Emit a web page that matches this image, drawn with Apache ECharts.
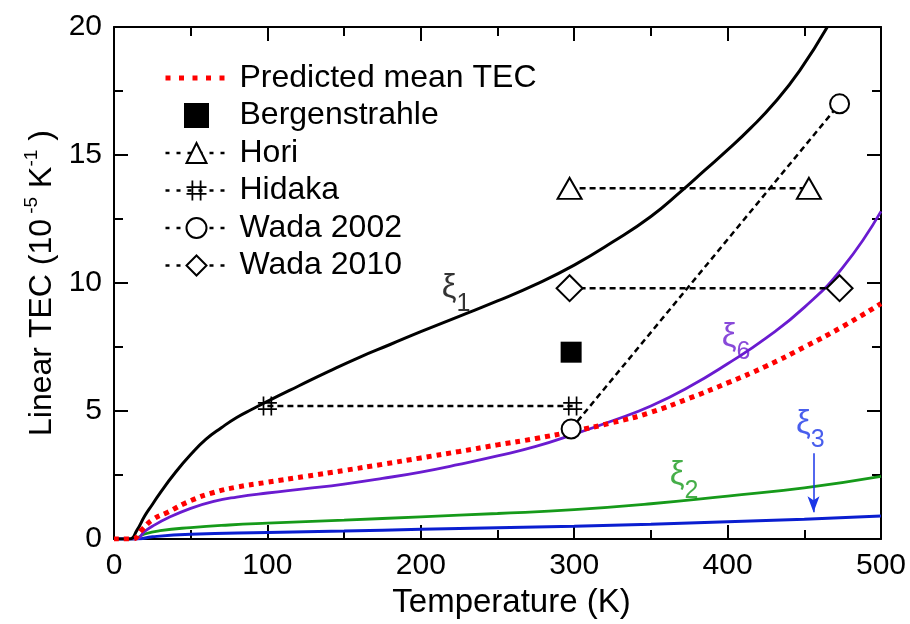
<!DOCTYPE html>
<html>
<head>
<meta charset="utf-8">
<script src="https://cdn.jsdelivr.net/npm/echarts@6/dist/echarts.min.js"></script>
<style>html,body{margin:0;padding:0;background:#fff}#c{width:910px;height:624px}</style>
</head>
<body>
<div id="c"></div>
<script>
// ---- data (Temperature K, TEC 1e-5/K) ----
const xi1 = [[0,0],[10,0],[15,0.35],[20,0.9],[25,1.35],[30,1.8],[40,2.6],[50,3.3],[60,3.9],[70,4.35],[80,4.75],[90,5.07],[100,5.38],[120,5.97],[140,6.55],[160,7.1],[180,7.6],[200,8.1],[225,8.7],[250,9.3],[275,9.95],[300,10.7],[325,11.6],[350,12.6],[370,13.6],[385,14.4],[400,15.2],[415,16.05],[430,17.0],[447,18.3],[465,20]];
const predicted = [[0,0],[12,0],[18,0.35],[25,0.75],[35,1.05],[50,1.5],[65,1.82],[80,2.03],[100,2.22],[125,2.45],[150,2.68],[175,2.92],[200,3.17],[225,3.42],[250,3.68],[275,3.93],[300,4.22],[325,4.55],[350,4.95],[375,5.5],[400,6.1],[425,6.75],[450,7.5],[475,8.3],[500,9.2]];
const xi6 = [[0,0],[14,0],[20,0.3],[25,0.5],[35,0.82],[50,1.2],[65,1.47],[80,1.64],[100,1.8],[125,1.97],[150,2.15],[175,2.37],[200,2.62],[225,2.92],[250,3.25],[275,3.62],[300,4.1],[325,4.62],[350,5.2],[375,5.95],[400,6.85],[425,7.85],[450,9.05],[475,10.6],[500,12.8]];
const xi2 = [[0,0],[12,0],[20,0.2],[30,0.33],[50,0.45],[75,0.55],[100,0.62],[150,0.74],[200,0.87],[250,1.0],[300,1.15],[350,1.38],[400,1.68],[450,2.0],[500,2.45]];
const xi3 = [[0,0],[15,0],[25,0.09],[50,0.19],[100,0.26],[150,0.32],[200,0.38],[250,0.44],[300,0.5],[350,0.58],[400,0.68],[450,0.78],[500,0.9]];
const bergenstrahle = [[298,7.3]];
const hori = [[297,13.7],[453,13.7]];
const hidaka = [[100,5.2],[299,5.2]];
const wada2002 = [[298,4.3],[473,17.0]];
const wada2010 = [[297,9.8],[473,9.8]];
const xi3Arrow = [[456,3.35],[456,1.05]];
const curveLabels = [
  {name:'1', pos:[223,9.57], color:'#000000'},
  {name:'6', pos:[405.5,7.68], color:'#6a1bd0'},
  {name:'2', pos:[371.6,2.28], color:'#169a1a'},
  {name:'3', pos:[454,4.25], color:'#1a36e8'}
];
const xTicks = {min:0, max:500, interval:100};
const yTicks = {min:0, max:20, interval:5};

const FONT = "'Liberation Sans', Arial, sans-serif";
const hashPath = 'path://M4.5,0h1.6v18h-1.6z M11.9,0h1.6v18h-1.6z M0,5.2h18v1.6h-18z M0,11.2h18v1.6h-18z';
const SM = 0.5;

function axisCommon(showLabel, pos){
  return {
    type:'value', position: pos,
    axisLine:{show:true, onZero:false, lineStyle:{color:'#000', width:2}},
    axisTick:{show:true, inside:true, length:14, lineStyle:{color:'#000', width:2}},
    minorTick:{show:true, splitNumber:2, length:9, lineStyle:{color:'#000', width:2}},
    splitLine:{show:false},
    axisLabel:{show:showLabel, color:'#000', fontSize:30, fontFamily:FONT, margin:12},
  };
}

const chart = echarts.init(document.getElementById('c'), null, {renderer:'canvas'});
const dashed = {color:'#000', width:2.5, type:[6,4]};

const option = {
  animation:false,
  backgroundColor:'#fff',
  grid:{left:114, right:29, top:27, bottom:79, containLabel:false},
  xAxis:[
    Object.assign(axisCommon(true,'bottom'), xTicks, {name:'Temperature (K)', nameLocation:'middle', nameGap:44,
      nameTextStyle:{color:'#000', fontSize:33, fontFamily:FONT, padding:[0,0,0,28]}}),
    Object.assign(axisCommon(false,'top'), xTicks)
  ],
  yAxis:[
    Object.assign(axisCommon(true,'left'), yTicks, {
      name:'{b|Linear TEC (10}{s| -5}{b| K}{s|-1}{b| )}', nameLocation:'middle', nameGap:54, nameRotate:90,
      nameTextStyle:{color:'#000', fontFamily:FONT, fontSize:32,
        rich:{b:{fontSize:32, fontFamily:FONT, color:'#000', verticalAlign:'bottom', lineHeight:36},
              s:{fontSize:19, fontFamily:FONT, color:'#000', verticalAlign:'bottom', lineHeight:19, padding:[0,0,16,0]}}}
    }),
    Object.assign(axisCommon(false,'right'), yTicks)
  ],
  legend:{
    left:158, top:57, orient:'vertical', itemWidth:62, itemHeight:25, itemGap:5.5,
    textStyle:{fontSize:32, fontFamily:FONT, color:'#000', lineHeight:32, padding:[0,0,0,7]},
    data:[
      {name:'Predicted mean TEC', itemStyle:{opacity:0}, lineStyle:{width:5, type:[5,8.5], color:'#ff0000'}},
      {name:'Bergenstrahle', icon:'path://M0,0h10v10h-10z'},
      {name:'Hori', lineStyle:{width:2.5, type:[4,7]}},
      {name:'Hidaka', lineStyle:{width:2.5, type:[4,7]}},
      {name:'Wada 2002', lineStyle:{width:2.5, type:[4,7]}},
      {name:'Wada 2010', lineStyle:{width:2.5, type:[4,7]}}
    ]
  },
  series:[
    {name:'xi2', type:'line', data:xi2, symbol:'none', smooth:SM, lineStyle:{color:'#169a1a', width:2.8}, z:3},
    {name:'xi3', type:'line', data:xi3, symbol:'none', smooth:SM, lineStyle:{color:'#0a1ed0', width:3}, z:3,
      markLine:{silent:true, symbol:['none','arrow'], symbolSize:[9,16], label:{show:false},
        lineStyle:{color:'#1a36e8', width:1.5, type:'solid'},
        data:[[{coord:xi3Arrow[0]},{coord:xi3Arrow[1]}]]}},
    {name:'xi6', type:'line', data:xi6, symbol:'none', smooth:SM, lineStyle:{color:'#6a1bd0', width:2.8}, z:4},
    {name:'Predicted mean TEC', type:'line', data:predicted, symbol:'none', smooth:SM,
      itemStyle:{color:'#ff0000'}, lineStyle:{color:'#ff0000', width:5, type:[5,5], cap:'butt'}, z:5},
    {name:'xi1', type:'line', data:xi1, symbol:'none', smooth:SM, lineStyle:{color:'#000', width:3}, z:4},
    {name:'Bergenstrahle', type:'scatter', data:bergenstrahle, symbol:'rect', symbolSize:21, itemStyle:{color:'#000', opacity:1}, z:6},
    {name:'Hori', type:'line', data:hori, symbol:'emptyTriangle', symbolSize:[24,21], showAllSymbol:true,
      itemStyle:{color:'#000'}, lineStyle:dashed, z:6},
    {name:'Hidaka', type:'line', data:hidaka, symbol:hashPath, symbolSize:19, symbolKeepAspect:true, showAllSymbol:true,
      itemStyle:{color:'#000'}, lineStyle:dashed, z:6},
    {name:'Wada 2002', type:'line', data:wada2002, symbol:'emptyCircle', symbolSize:19, showAllSymbol:true,
      itemStyle:{color:'#000'}, lineStyle:dashed, z:7},
    {name:'Wada 2010', type:'line', data:wada2010, symbol:'emptyDiamond', symbolSize:[26,26], showAllSymbol:true,
      itemStyle:{color:'#000'}, lineStyle:dashed, z:6},
    {name:'labels', type:'scatter', symbolSize:0, z:8,
      data: curveLabels.map(c => ({value:c.pos, label:{show:true, position:'inside',
        formatter:'{x|ξ}{s|' + c.name + '}',
        rich:{x:{fontSize:33, fontFamily:FONT, color:c.color, verticalAlign:'bottom', padding:[0,0,12,0]},
              s:{fontSize:25, fontFamily:FONT, color:c.color, verticalAlign:'bottom'}}}}))
    }
  ]
};
chart.setOption(option);
</script>
</body>
</html>
